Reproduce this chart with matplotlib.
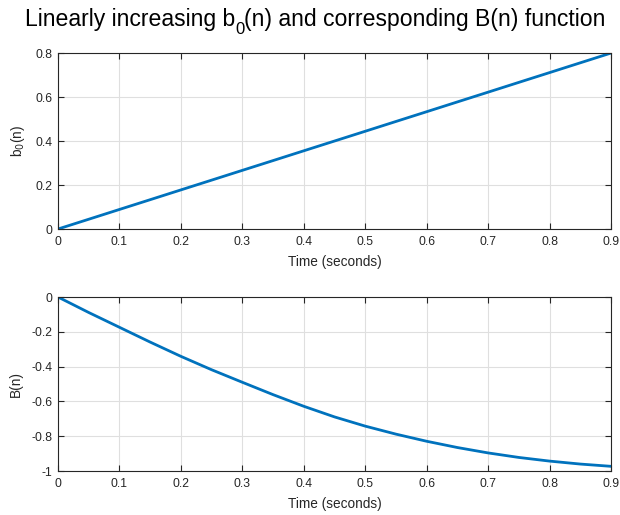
import matplotlib
matplotlib.use("Agg")
import matplotlib.pyplot as plt
from matplotlib.transforms import offset_copy

plt.rcParams['font.family'] = ['Liberation Sans', 'DejaVu Sans']

# Time samples (seconds)
time_s = [0.0, 0.05, 0.1, 0.15, 0.2, 0.25, 0.3, 0.35, 0.4, 0.45,
          0.5, 0.55, 0.6, 0.65, 0.7, 0.75, 0.8, 0.85, 0.9]

# Linearly increasing b0(n)
b0_vals = [0.0, 0.0444, 0.0889, 0.1333, 0.1778, 0.2222, 0.2667, 0.3111, 0.3556, 0.4,
           0.4444, 0.4889, 0.5333, 0.5778, 0.6222, 0.6667, 0.7111, 0.7556, 0.8]

# Corresponding B(n)
B_vals = [0.0, -0.089, -0.174, -0.259, -0.341, -0.418, -0.49, -0.561, -0.628, -0.689,
          -0.742, -0.788, -0.829, -0.865, -0.896, -0.922, -0.943, -0.96, -0.973]

x_ticks = [0, 0.1, 0.2, 0.3, 0.4, 0.5, 0.6, 0.7, 0.8, 0.9]
x_ticklabels = ['0', '0.1', '0.2', '0.3', '0.4', '0.5', '0.6', '0.7', '0.8', '0.9']
top_yticks = [0, 0.2, 0.4, 0.6, 0.8]
top_yticklabels = ['0', '0.2', '0.4', '0.6', '0.8']
bot_yticks = [-1, -0.8, -0.6, -0.4, -0.2, 0]
bot_yticklabels = ['-1', '-0.8', '-0.6', '-0.4', '-0.2', '0']

line_color = '#0072BD'
text_color = '#262626'

fig = plt.figure(figsize=(6.2, 5.15), dpi=100)
ax1 = fig.add_axes([0.0935, 0.5553, 0.892, 0.3417])
ax2 = fig.add_axes([0.0935, 0.0854, 0.892, 0.3379])


def style(ax, yticks, ylabels, ylim):
    ax.set_xlim(0, 0.9)
    ax.set_ylim(*ylim)
    ax.set_xticks(x_ticks)
    ax.set_xticklabels(x_ticklabels)
    ax.set_yticks(yticks)
    ax.set_yticklabels(ylabels)
    ax.grid(True, color='#dfdfdf', linewidth=0.8)
    ax.set_axisbelow(True)
    ax.tick_params(direction='in', length=4, width=0.8, top=True, right=True,
                   labelsize=8.7, colors=text_color)
    ax.tick_params(axis='x', pad=5)
    ax.tick_params(axis='y', pad=4)
    for sp in ax.spines.values():
        sp.set_color(text_color)
        sp.set_linewidth(0.8)
    ax.set_xlabel('Time (seconds)', fontsize=9.8, color=text_color, labelpad=5)


ax1.plot(time_s, b0_vals, color=line_color, linewidth=2)
style(ax1, top_yticks, top_yticklabels, (0, 0.8))
ax1.set_ylabel(r'b$_0$(n)', fontsize=9.8, color=text_color, labelpad=6)

ax2.plot(time_s, B_vals, color=line_color, linewidth=2)
style(ax2, bot_yticks, bot_yticklabels, (-1, 0))
ax2.set_ylabel('B(n)', fontsize=9.8, color=text_color, labelpad=6)

# Title assembled from pieces so the subscript sits low, TeX-style
title_size = 16.6
renderer = fig.canvas.get_renderer()
x0, y0 = 0.0403, 1 - 26 / 515
parts = [('Linearly increasing b', title_size, 0),
         ('0', title_size * 0.72, -8),
         ('(n) and corresponding B(n) function', title_size, 0)]
x_px = 0.0
for s, size, dy in parts:
    tr = offset_copy(fig.transFigure, fig=fig, x=x_px, y=dy, units='dots')
    t = fig.text(x0, y0, s, fontsize=size, color='black', ha='left',
                 va='baseline', transform=tr)
    x_px += t.get_window_extent(renderer).width

fig.savefig('out.png', dpi=100)
